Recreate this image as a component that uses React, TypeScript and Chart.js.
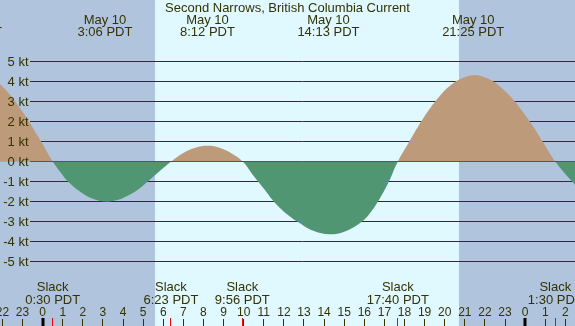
import { useEffect, useRef } from "react";
import Chart from "chart.js/auto";

const TITLE = "Second Narrows, British Columbia Current";

// current speed (kt), time in hours from midnight May 10
const hours = [-3.57, -3, -2, -1, -0.13, 0.5, 0.9, 1.26, 2, 2.6, 3.1, 3.6, 4, 4.68, 5.17, 5.8, 6.4, 7, 7.6, 8.2, 8.8, 9.4, 9.95, 10.5, 11, 11.46, 12, 12.8, 13.5, 14.25, 15, 15.87, 16.3, 16.68, 17.2, 17.667, 18.2, 18.7, 19.2, 19.7, 20.2, 20.7, 21.42, 21.9, 22.4, 22.9, 23.4, 23.9, 24.4, 24.9, 25.5, 26.43, 27];
const speeds = [4.55, 4.44, 3.74, 2.48, 1.08, 0, -0.55, -1.0, -1.6, -1.9, -2.0, -1.95, -1.82, -1.45, -1.05, -0.5, 0, 0.42, 0.68, 0.78, 0.68, 0.4, 0, -0.72, -1.35, -1.95, -2.5, -3.08, -3.47, -3.63, -3.5, -3.0, -2.55, -2.0, -1.05, 0, 0.92, 1.78, 2.55, 3.2, 3.72, 4.08, 4.3, 4.22, 4.0, 3.6, 3.1, 2.45, 1.75, 0.95, 0, -1.1, -1.6];

// night shading (hours)
const nightStart = [-4, 20.71];
const nightEnd = [5.59, 28];

// max/min events (top labels)
const eventHours = [-3.57, 3.1, 8.2, 14.217, 21.417];
const eventDates = ["May 9", "May 10", "May 10", "May 10", "May 10"];
const eventTimes = ["20:26 PDT", "3:06 PDT", "8:12 PDT", "14:13 PDT", "21:25 PDT"];

// slack events (bottom labels)
const slackHours = [0.5, 6.383, 9.933, 17.667, 25.5];
const slackTimes = ["0:30 PDT", "6:23 PDT", "9:56 PDT", "17:40 PDT", "1:30 PDT"];

const hourTicks = [-2, -1, 0, 1, 2, 3, 4, 5, 6, 7, 8, 9, 10, 11, 12, 13, 14, 15, 16, 17, 18, 19, 20, 21, 22, 23, 24, 25, 26];
const kntTicks = [5, 4, 3, 2, 1, 0, -1, -2, -3, -4, -5];

const X_MIN = -2.12;
const X_MAX = 26.48;
const Y_MIN = -8.2;
const Y_MAX = 8.05;

const DAY = "#e0f8ff";
const NIGHT = "#b0c4de";
const TAN = "#bd9a7a";
const GREEN = "#509673";
const INK = "#333300";
const FONT = "13px 'Liberation Sans', Arial, sans-serif";
const HOUR_FONT = "12px 'Liberation Sans', Arial, sans-serif";

const tidePlugin = {
  id: "tide",
  beforeDraw(chart: any) {
    const { ctx, scales } = chart;
    const x = scales.x;
    ctx.save();
    ctx.fillStyle = DAY;
    ctx.fillRect(0, 0, chart.width, chart.height);
    ctx.fillStyle = NIGHT;
    for (let i = 0; i < nightStart.length; i++) {
      const a = Math.round(x.getPixelForValue(nightStart[i]));
      const b = Math.round(x.getPixelForValue(nightEnd[i]));
      ctx.fillRect(a, 0, b - a, chart.height);
    }
    ctx.restore();
  },
  beforeDatasetsDraw(chart: any) {
    const { ctx, scales } = chart;
    const y = scales.y;
    ctx.save();
    ctx.strokeStyle = INK;
    ctx.lineWidth = 1;
    for (const k of kntTicks) {
      const py = Math.floor(y.getPixelForValue(k)) + 0.5;
      ctx.beginPath();
      ctx.moveTo(30, py);
      ctx.lineTo(chart.width, py);
      ctx.stroke();
    }
    ctx.restore();
  },
  afterDatasetsDraw(chart: any) {
    const { ctx, scales } = chart;
    const x = scales.x;
    const y = scales.y;
    const W = chart.width;
    const H = chart.height;
    ctx.save();
    ctx.fillStyle = INK;
    ctx.font = FONT;
    ctx.textBaseline = "alphabetic";

    // y labels
    ctx.textAlign = "right";
    for (const k of kntTicks) {
      const py = Math.floor(y.getPixelForValue(k));
      ctx.fillText(`${k} kt`, 28.5, py + 5);
    }

    // title
    ctx.textAlign = "center";
    ctx.fillText(TITLE, W / 2, 11.5);

    // event labels
    for (let i = 0; i < eventHours.length; i++) {
      const px = x.getPixelForValue(eventHours[i]);
      ctx.fillText(eventDates[i], px, 24);
      ctx.fillText(eventTimes[i], px, 36);
    }

    // slack labels
    for (let i = 0; i < slackHours.length; i++) {
      const px = x.getPixelForValue(slackHours[i]);
      ctx.fillText("Slack", px, 291);
      ctx.fillText(slackTimes[i], px, 304);
    }

    // hour labels and ticks
    ctx.font = HOUR_FONT;
    for (const h of hourTicks) {
      const px = x.getPixelForValue(h);
      const lab = String(((h % 24) + 24) % 24);
      ctx.fillText(lab, px, 316);
      const midnight = lab === "0";
      ctx.strokeStyle = midnight ? "#000000" : INK;
      ctx.lineWidth = midnight ? 3 : 1;
      const tx = midnight ? Math.round(px) : Math.floor(px) + 0.5;
      ctx.beginPath();
      ctx.moveTo(tx, midnight ? 318 : 319);
      ctx.lineTo(tx, H);
      ctx.stroke();
    }

    // slack ticks
    ctx.strokeStyle = "#ff0000";
    ctx.lineWidth = 1;
    for (const s of slackHours) {
      const tx = Math.floor(x.getPixelForValue(s)) + 0.5;
      ctx.beginPath();
      ctx.moveTo(tx, 318);
      ctx.lineTo(tx, H);
      ctx.stroke();
    }
    ctx.restore();
  },
};

export default function App() {
  const ref = useRef<HTMLCanvasElement>(null);
  useEffect(() => {
    const chart = new Chart(ref.current as HTMLCanvasElement, {
      type: "line",
      data: {
        datasets: [
          {
            data: hours.map((h, i) => ({ x: h, y: speeds[i] })),
            fill: { target: "origin", above: TAN, below: GREEN },
            backgroundColor: TAN,
            borderColor: "rgba(0,0,0,0)",
            borderWidth: 0,
            pointRadius: 0,
            tension: 0.4,
          } as any,
        ],
      },
      options: {
        animation: false,
        responsive: false,
        devicePixelRatio: 1,
        layout: { padding: 0 },
        events: [],
        plugins: { legend: { display: false }, tooltip: { enabled: false }, title: { display: false } },
        scales: {
          x: { type: "linear", min: X_MIN, max: X_MAX, display: false },
          y: { type: "linear", min: Y_MIN, max: Y_MAX, display: false },
        },
      },
      plugins: [tidePlugin],
    });
    return () => chart.destroy();
  }, []);
  return (
    <div style={{ position: "fixed", left: 0, top: 0, width: 575, height: 326 }}>
      <canvas ref={ref} width={575} height={326} style={{ display: "block" }} />
    </div>
  );
}
